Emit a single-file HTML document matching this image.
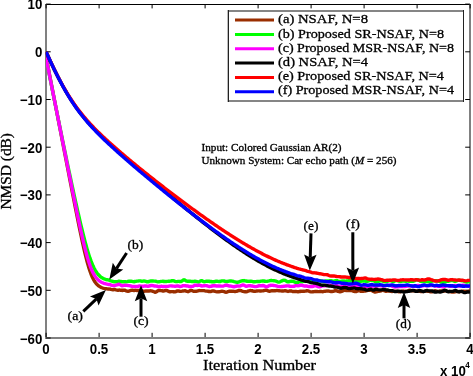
<!DOCTYPE html>
<html><head><meta charset="utf-8"><style>
html,body{margin:0;padding:0;background:#fff;width:473px;height:376px;overflow:hidden}
svg{display:block;will-change:transform}
text{fill:#000}
.r text{}
</style></head><body>
<svg width="473" height="376" viewBox="0 0 473 376">
<rect width="473" height="376" fill="#fff"/>
<defs><clipPath id="c"><rect x="45.8" y="4" width="424.2" height="334"/></clipPath></defs>
<path d="M45 4.5H470" stroke="#000" stroke-width="1" fill="none"/>
<path d="M46 4V339M470 4V339M45 338H471" stroke="#808080" stroke-width="2" fill="none"/>
<path d="M46.1 337V332.8M46.1 4V8.4M99.1 337V332.8M99.1 4V8.4M152.1 337V332.8M152.1 4V8.4M205.1 337V332.8M205.1 4V8.4M258.1 337V332.8M258.1 4V8.4M311.1 337V332.8M311.1 4V8.4M364.1 337V332.8M364.1 4V8.4M417.1 337V332.8M417.1 4V8.4M470.1 337V332.8M470.1 4V8.4M46 4.10H50.7M470 4.10H465.2M46 51.80H50.7M470 51.80H465.2M46 99.50H50.7M470 99.50H465.2M46 147.20H50.7M470 147.20H465.2M46 194.90H50.7M470 194.90H465.2M46 242.60H50.7M470 242.60H465.2M46 290.30H50.7M470 290.30H465.2M46 338.00H50.7M470 338.00H465.2" stroke="#000" stroke-width="1" fill="none"/>
<g clip-path="url(#c)" fill="none" stroke-width="3.4" stroke-linejoin="round" stroke-linecap="butt">
<polyline points="46.0,52.00 47.0,61.58 48.0,66.74 49.0,71.91 50.0,77.08 51.0,82.25 52.0,87.42 53.0,92.59 54.0,97.76 55.0,102.93 56.0,108.10 57.0,113.27 58.0,118.44 59.0,123.60 60.0,128.77 61.0,133.94 62.0,139.10 63.0,144.27 64.0,149.43 65.0,154.59 66.0,159.75 67.0,164.90 68.0,170.05 69.0,175.20 70.0,180.34 71.0,185.47 72.0,190.59 73.0,195.70 74.0,200.79 75.0,205.86 76.0,210.90 77.0,215.92 78.0,220.89 79.0,225.81 80.0,230.67 81.0,235.45 82.0,240.13 83.0,244.70 84.0,249.13 85.0,253.39 86.0,257.46 87.0,261.31 88.0,264.91 89.0,268.24 90.0,271.27 91.0,274.01 92.0,276.43 93.0,278.56 94.0,280.40 95.0,281.97 96.0,283.31 97.0,284.43 98.0,285.36 99.0,286.14 100.0,286.78 101.0,287.32 102.0,287.76 103.0,288.10 104.0,288.37 105.0,288.60 106.0,288.73 107.0,288.90 108.0,288.97 109.0,289.10 110.0,289.06 111.0,289.37 112.0,289.59 113.0,289.73 114.0,289.54 115.0,289.57 116.0,289.85 117.0,290.09 118.0,290.27 119.0,290.05 120.0,290.18 121.0,290.18 122.0,290.48 123.0,290.27 124.0,290.24 125.0,290.25 126.0,290.76 127.0,291.07 128.0,291.25 129.0,291.06 130.0,290.74 131.0,290.35 132.0,290.28 133.0,290.32 134.0,290.48 135.0,290.30 136.0,290.34 137.0,290.47 138.0,290.67 139.0,290.52 140.0,290.21 141.0,290.22 142.0,290.65 143.0,291.16 144.0,291.29 145.0,291.13 146.0,290.90 147.0,290.94 148.0,290.91 149.0,290.96 150.0,290.81 151.0,290.89 152.0,290.95 153.0,291.36 154.0,291.73 155.0,292.22 156.0,292.00 157.0,291.50 158.0,290.67 159.0,290.54 160.0,290.40 161.0,290.64 162.0,290.69 163.0,291.02 164.0,290.96 165.0,290.66 166.0,290.40 167.0,290.51 168.0,291.09 169.0,291.51 170.0,291.79 171.0,291.59 172.0,291.62 173.0,291.62 174.0,291.94 175.0,291.78 176.0,291.53 177.0,290.94 178.0,290.89 179.0,291.02 180.0,291.41 181.0,291.35 182.0,291.19 183.0,290.94 184.0,290.84 185.0,290.75 186.0,291.02 187.0,291.41 188.0,291.69 189.0,291.29 190.0,290.72 191.0,290.36 192.0,290.56 193.0,291.01 194.0,291.32 195.0,291.37 196.0,291.29 197.0,291.04 198.0,290.81 199.0,290.57 200.0,290.58 201.0,290.65 202.0,290.63 203.0,290.59 204.0,290.67 205.0,290.89 206.0,291.08 207.0,291.14 208.0,291.26 209.0,291.54 210.0,291.54 211.0,291.46 212.0,290.98 213.0,291.00 214.0,291.00 215.0,291.38 216.0,291.63 217.0,291.81 218.0,291.88 219.0,291.73 220.0,291.62 221.0,291.38 222.0,291.25 223.0,291.37 224.0,291.59 225.0,292.12 226.0,292.19 227.0,292.11 228.0,291.55 229.0,291.28 230.0,291.14 231.0,291.22 232.0,291.14 233.0,291.31 234.0,291.35 235.0,291.57 236.0,291.35 237.0,291.20 238.0,290.77 239.0,290.51 240.0,290.39 241.0,290.62 242.0,291.04 243.0,291.40 244.0,291.64 245.0,291.76 246.0,291.79 247.0,291.56 248.0,291.14 249.0,290.82 250.0,290.54 251.0,290.68 252.0,290.68 253.0,291.11 254.0,291.25 255.0,291.39 256.0,291.16 257.0,290.95 258.0,290.89 259.0,290.87 260.0,290.95 261.0,290.96 262.0,290.91 263.0,290.82 264.0,290.53 265.0,290.40 266.0,290.17 267.0,290.46 268.0,290.83 269.0,291.22 270.0,291.19 271.0,290.88 272.0,290.73 273.0,290.72 274.0,290.82 275.0,290.75 276.0,290.57 277.0,290.45 278.0,290.59 279.0,290.71 280.0,290.87 281.0,290.92 282.0,291.07 283.0,291.01 284.0,290.81 285.0,290.66 286.0,290.87 287.0,291.20 288.0,291.43 289.0,291.16 290.0,290.83 291.0,290.88 292.0,291.25 293.0,291.66 294.0,291.56 295.0,291.41 296.0,291.47 297.0,291.59 298.0,291.78 299.0,291.54 300.0,291.52 301.0,291.23 302.0,291.32 303.0,291.21 304.0,291.42 305.0,291.20 306.0,290.99 307.0,290.71 308.0,290.89 309.0,291.29 310.0,291.69 311.0,291.88 312.0,291.84 313.0,291.70 314.0,291.58 315.0,291.52 316.0,291.48 317.0,291.53 318.0,291.62 319.0,291.62 320.0,291.48 321.0,291.49 322.0,291.61 323.0,291.71 324.0,291.44 325.0,291.30 326.0,291.06 327.0,291.08 328.0,290.96 329.0,291.11 330.0,291.32 331.0,291.47 332.0,291.54 333.0,291.37 334.0,291.06 335.0,290.73 336.0,290.68 337.0,290.90 338.0,291.37 339.0,291.49 340.0,291.72 341.0,291.54 342.0,291.34 343.0,290.78 344.0,290.42 345.0,290.39 346.0,290.44 347.0,290.49 348.0,290.48 349.0,290.51 350.0,290.42 351.0,290.43 352.0,290.60 353.0,291.03 354.0,291.39 355.0,291.66 356.0,291.58 357.0,291.14 358.0,290.64 359.0,290.55 360.0,290.91 361.0,291.32 362.0,291.40 363.0,291.33 364.0,291.10 365.0,291.01 366.0,290.76 367.0,290.51 368.0,290.22 369.0,290.11 370.0,290.18 371.0,290.37 372.0,290.65 373.0,291.25 374.0,291.77 375.0,292.13 376.0,291.89 377.0,291.56 378.0,291.29 379.0,291.26 380.0,291.17 381.0,290.85 382.0,290.47 383.0,290.22 384.0,290.66 385.0,290.98 386.0,291.24 387.0,291.04 388.0,290.95 389.0,291.05 390.0,291.14 391.0,291.39 392.0,291.47 393.0,291.42 394.0,291.33 395.0,291.20 396.0,291.25 397.0,291.20 398.0,291.54 399.0,291.73 400.0,291.80 401.0,291.40 402.0,291.08 403.0,291.04 404.0,291.09 405.0,291.31 406.0,291.31 407.0,291.35 408.0,290.86 409.0,290.44 410.0,290.21 411.0,290.54 412.0,290.91 413.0,290.84 414.0,290.71 415.0,290.64 416.0,290.86 417.0,290.96 418.0,290.98 419.0,291.19 420.0,291.26 421.0,291.47 422.0,291.46 423.0,291.62 424.0,291.42 425.0,291.18 426.0,290.98 427.0,291.04 428.0,291.29 429.0,291.42 430.0,291.69 431.0,291.80 432.0,291.87 433.0,291.45 434.0,291.01 435.0,290.72 436.0,290.96 437.0,291.28 438.0,291.38 439.0,291.23 440.0,290.90 441.0,290.88 442.0,290.97 443.0,291.25 444.0,291.08 445.0,290.82 446.0,290.72 447.0,291.06 448.0,291.37 449.0,291.49 450.0,291.53 451.0,291.80 452.0,292.00 453.0,292.08 454.0,291.95 455.0,291.87 456.0,291.63 457.0,291.53 458.0,291.38 459.0,291.70 460.0,291.58 461.0,291.55 462.0,291.14 463.0,291.25 464.0,291.29 465.0,291.41 466.0,291.46 467.0,291.43 468.0,291.33 469.0,291.08 470.0,290.99" stroke="#9a2e00"/>
<polyline points="46.0,52.00 47.0,60.82 48.0,67.42 49.0,72.97 50.0,78.15 51.0,83.20 52.0,88.19 53.0,93.17 54.0,98.13 55.0,103.08 56.0,108.01 57.0,112.94 58.0,117.86 59.0,122.76 60.0,127.65 61.0,132.53 62.0,137.40 63.0,142.25 64.0,147.08 65.0,151.90 66.0,156.70 67.0,161.48 68.0,166.25 69.0,170.99 70.0,175.71 71.0,180.40 72.0,185.07 73.0,189.71 74.0,194.31 75.0,198.89 76.0,203.42 77.0,207.91 78.0,212.34 79.0,216.73 80.0,221.05 81.0,225.29 82.0,229.46 83.0,233.53 84.0,237.49 85.0,241.33 86.0,245.04 87.0,248.59 88.0,251.97 89.0,255.17 90.0,258.17 91.0,260.95 92.0,263.51 93.0,265.85 94.0,267.96 95.0,269.85 96.0,271.52 97.0,272.98 98.0,274.25 99.0,275.35 100.0,276.30 101.0,277.10 102.0,277.78 103.0,278.35 104.0,278.83 105.0,279.24 106.0,279.54 107.0,279.75 108.0,279.94 109.0,280.20 110.0,280.50 111.0,280.88 112.0,281.22 113.0,281.56 114.0,281.69 115.0,281.75 116.0,281.77 117.0,281.63 118.0,281.43 119.0,281.15 120.0,281.34 121.0,281.50 122.0,281.77 123.0,281.63 124.0,281.72 125.0,281.73 126.0,281.80 127.0,281.58 128.0,281.33 129.0,281.18 130.0,281.14 131.0,281.22 132.0,281.44 133.0,281.65 134.0,281.76 135.0,281.49 136.0,281.36 137.0,281.14 138.0,281.08 139.0,280.83 140.0,280.89 141.0,281.05 142.0,281.25 143.0,281.12 144.0,280.99 145.0,281.10 146.0,281.47 147.0,281.75 148.0,281.74 149.0,281.48 150.0,281.20 151.0,280.96 152.0,280.96 153.0,281.04 154.0,281.10 155.0,281.11 156.0,281.27 157.0,281.62 158.0,281.82 159.0,281.70 160.0,281.59 161.0,281.36 162.0,281.41 163.0,281.24 164.0,281.52 165.0,281.52 166.0,281.64 167.0,281.36 168.0,281.31 169.0,281.20 170.0,281.21 171.0,281.00 172.0,280.76 173.0,280.70 174.0,280.89 175.0,281.33 176.0,281.59 177.0,281.60 178.0,281.42 179.0,281.32 180.0,281.57 181.0,281.60 182.0,281.07 183.0,280.15 184.0,279.77 185.0,280.18 186.0,280.88 187.0,281.20 188.0,281.20 189.0,281.16 190.0,281.18 191.0,281.37 192.0,281.54 193.0,281.56 194.0,281.44 195.0,281.23 196.0,281.34 197.0,281.65 198.0,282.02 199.0,281.84 200.0,281.17 201.0,280.63 202.0,280.76 203.0,281.35 204.0,281.71 205.0,281.56 206.0,281.27 207.0,281.08 208.0,281.25 209.0,281.26 210.0,281.49 211.0,281.48 212.0,281.73 213.0,281.80 214.0,281.74 215.0,281.52 216.0,281.23 217.0,281.23 218.0,281.37 219.0,281.56 220.0,281.53 221.0,281.20 222.0,280.90 223.0,280.85 224.0,280.98 225.0,281.26 226.0,281.36 227.0,281.52 228.0,281.28 229.0,281.08 230.0,280.92 231.0,280.97 232.0,281.11 233.0,281.26 234.0,281.66 235.0,281.89 236.0,282.11 237.0,282.21 238.0,282.23 239.0,281.94 240.0,281.42 241.0,281.11 242.0,280.81 243.0,280.74 244.0,280.55 245.0,280.85 246.0,280.96 247.0,281.28 248.0,281.29 249.0,281.33 250.0,281.19 251.0,281.26 252.0,281.44 253.0,281.74 254.0,281.76 255.0,281.71 256.0,281.59 257.0,281.47 258.0,281.53 259.0,281.38 260.0,281.46 261.0,281.16 262.0,281.03 263.0,280.83 264.0,281.00 265.0,281.29 266.0,281.37 267.0,281.33 268.0,281.06 269.0,280.88 270.0,280.61 271.0,280.53 272.0,280.57 273.0,280.68 274.0,280.80 275.0,280.93 276.0,281.22 277.0,281.55 278.0,281.99 279.0,282.08 280.0,281.90 281.0,281.31 282.0,280.86 283.0,280.40 284.0,280.30 285.0,280.34 286.0,280.91 287.0,281.54 288.0,281.91 289.0,281.79 290.0,281.34 291.0,281.22 292.0,281.15 293.0,281.42 294.0,281.70 295.0,282.14 296.0,282.57 297.0,282.58 298.0,282.36 299.0,281.90 300.0,281.83 301.0,281.86 302.0,281.87 303.0,281.40 304.0,281.00 305.0,280.80 306.0,281.05 307.0,281.23 308.0,281.10 309.0,280.88 310.0,280.83 311.0,281.21 312.0,281.54 313.0,281.52 314.0,281.42 315.0,281.30 316.0,281.49 317.0,281.47 318.0,281.27 319.0,280.97 320.0,280.68 321.0,280.85 322.0,281.16 323.0,281.61 324.0,281.60 325.0,281.27 326.0,280.85 327.0,280.85 328.0,280.93 329.0,280.85 330.0,280.61 331.0,280.62 332.0,280.99 333.0,281.09 334.0,281.17 335.0,280.80 336.0,280.79 337.0,280.67 338.0,281.11 339.0,281.48 340.0,281.48 341.0,281.37 342.0,281.04 343.0,281.18 344.0,281.05 345.0,281.10 346.0,281.06 347.0,280.99 348.0,280.94 349.0,280.73 350.0,280.77 351.0,280.90 352.0,281.21 353.0,281.43 354.0,281.44 355.0,281.20 356.0,280.95 357.0,280.94 358.0,281.09 359.0,281.34 360.0,281.35 361.0,281.28 362.0,281.17 363.0,281.06 364.0,281.09 365.0,281.15 366.0,281.29 367.0,281.34 368.0,281.02 369.0,280.77 370.0,280.37 371.0,280.41 372.0,280.39 373.0,280.67 374.0,281.02 375.0,281.46 376.0,281.79 377.0,281.76 378.0,281.60 379.0,281.23 380.0,280.86 381.0,280.56 382.0,280.67 383.0,281.17 384.0,281.58 385.0,281.75 386.0,281.60 387.0,281.51 388.0,281.12 389.0,280.77 390.0,280.47 391.0,280.78 392.0,281.21 393.0,281.53 394.0,281.27 395.0,280.93 396.0,280.60 397.0,280.60 398.0,280.70 399.0,281.07 400.0,281.41 401.0,281.46 402.0,281.11 403.0,280.77 404.0,280.88 405.0,281.20 406.0,281.35 407.0,281.15 408.0,281.14 409.0,281.24 410.0,281.40 411.0,281.31 412.0,281.22 413.0,281.23 414.0,281.06 415.0,280.59 416.0,279.99 417.0,279.62 418.0,279.90 419.0,280.39 420.0,281.06 421.0,281.34 422.0,281.40 423.0,281.36 424.0,281.35 425.0,281.49 426.0,281.50 427.0,281.64 428.0,281.74 429.0,281.75 430.0,281.73 431.0,281.42 432.0,281.24 433.0,280.80 434.0,280.73 435.0,280.65 436.0,280.88 437.0,280.82 438.0,280.97 439.0,281.19 440.0,281.71 441.0,282.08 442.0,282.15 443.0,282.27 444.0,282.18 445.0,282.01 446.0,281.57 447.0,281.27 448.0,281.23 449.0,281.05 450.0,280.74 451.0,280.46 452.0,280.36 453.0,280.71 454.0,281.07 455.0,281.40 456.0,281.13 457.0,280.64 458.0,280.20 459.0,280.19 460.0,280.35 461.0,280.66 462.0,280.78 463.0,280.91 464.0,281.14 465.0,281.62 466.0,281.99 467.0,282.10 468.0,281.77 469.0,281.49 470.0,281.17" stroke="#00ff00"/>
<polyline points="46.0,52.00 47.0,62.61 48.0,67.65 49.0,72.69 50.0,77.72 51.0,82.76 52.0,87.80 53.0,92.83 54.0,97.87 55.0,102.90 56.0,107.94 57.0,112.97 58.0,118.01 59.0,123.04 60.0,128.07 61.0,133.10 62.0,138.12 63.0,143.15 64.0,148.17 65.0,153.19 66.0,158.20 67.0,163.21 68.0,168.21 69.0,173.21 70.0,178.19 71.0,183.17 72.0,188.13 73.0,193.07 74.0,198.00 75.0,202.89 76.0,207.76 77.0,212.58 78.0,217.36 79.0,222.09 80.0,226.74 81.0,231.31 82.0,235.79 83.0,240.14 84.0,244.36 85.0,248.41 86.0,252.28 87.0,255.95 88.0,259.39 89.0,262.57 90.0,265.50 91.0,268.16 92.0,270.54 93.0,272.66 94.0,274.51 95.0,276.13 96.0,277.52 97.0,278.72 98.0,279.74 99.0,280.60 100.0,281.33 101.0,281.95 102.0,282.47 103.0,282.92 104.0,283.29 105.0,283.62 106.0,283.95 107.0,284.13 108.0,284.31 109.0,284.48 110.0,284.72 111.0,284.98 112.0,285.33 113.0,285.62 114.0,285.62 115.0,285.46 116.0,285.18 117.0,284.89 118.0,284.50 119.0,284.26 120.0,284.64 121.0,285.20 122.0,285.74 123.0,285.60 124.0,285.41 125.0,285.22 126.0,285.34 127.0,285.38 128.0,285.49 129.0,285.60 130.0,285.79 131.0,286.01 132.0,286.32 133.0,286.43 134.0,286.56 135.0,286.37 136.0,286.64 137.0,286.46 138.0,286.45 139.0,286.05 140.0,286.06 141.0,286.11 142.0,286.29 143.0,286.28 144.0,286.12 145.0,285.93 146.0,286.02 147.0,286.18 148.0,286.23 149.0,286.02 150.0,285.77 151.0,285.51 152.0,285.51 153.0,285.65 154.0,286.03 155.0,286.01 156.0,286.09 157.0,286.20 158.0,286.58 159.0,286.73 160.0,286.45 161.0,286.32 162.0,286.31 163.0,286.55 164.0,286.53 165.0,286.41 166.0,286.43 167.0,286.41 168.0,286.34 169.0,286.06 170.0,285.89 171.0,285.88 172.0,285.93 173.0,286.09 174.0,286.17 175.0,286.34 176.0,286.09 177.0,285.94 178.0,285.91 179.0,286.25 180.0,286.52 181.0,286.38 182.0,286.09 183.0,285.65 184.0,285.60 185.0,285.70 186.0,285.78 187.0,286.02 188.0,286.04 189.0,286.46 190.0,286.33 191.0,286.51 192.0,286.44 193.0,286.23 194.0,285.65 195.0,285.13 196.0,285.19 197.0,285.44 198.0,285.33 199.0,285.23 200.0,285.29 201.0,285.80 202.0,285.97 203.0,285.92 204.0,285.70 205.0,285.60 206.0,285.60 207.0,285.78 208.0,286.14 209.0,286.43 210.0,286.46 211.0,286.25 212.0,286.00 213.0,285.76 214.0,285.69 215.0,285.71 216.0,285.95 217.0,286.06 218.0,286.07 219.0,286.00 220.0,285.96 221.0,286.09 222.0,286.15 223.0,286.11 224.0,285.75 225.0,285.35 226.0,285.06 227.0,285.28 228.0,285.63 229.0,286.03 230.0,286.04 231.0,286.10 232.0,286.30 233.0,286.60 234.0,286.71 235.0,286.51 236.0,286.22 237.0,286.05 238.0,286.03 239.0,286.10 240.0,285.99 241.0,285.71 242.0,285.18 243.0,284.90 244.0,285.06 245.0,285.72 246.0,286.25 247.0,286.20 248.0,285.81 249.0,285.63 250.0,285.76 251.0,285.95 252.0,285.96 253.0,286.23 254.0,286.40 255.0,286.67 256.0,286.57 257.0,286.41 258.0,286.07 259.0,285.73 260.0,285.69 261.0,285.69 262.0,285.71 263.0,285.53 264.0,285.65 265.0,286.15 266.0,286.70 267.0,286.77 268.0,286.33 269.0,285.69 270.0,285.46 271.0,285.30 272.0,285.35 273.0,285.29 274.0,285.50 275.0,285.66 276.0,285.88 277.0,286.09 278.0,286.37 279.0,286.55 280.0,286.66 281.0,286.61 282.0,286.44 283.0,286.32 284.0,286.18 285.0,286.14 286.0,285.97 287.0,285.86 288.0,285.89 289.0,286.01 290.0,286.24 291.0,286.33 292.0,286.36 293.0,286.38 294.0,286.27 295.0,285.95 296.0,285.62 297.0,285.65 298.0,285.83 299.0,285.67 300.0,285.29 301.0,285.10 302.0,285.35 303.0,285.65 304.0,285.99 305.0,285.98 306.0,286.01 307.0,286.05 308.0,286.29 309.0,286.54 310.0,286.55 311.0,286.67 312.0,286.58 313.0,286.37 314.0,285.87 315.0,285.58 316.0,285.73 317.0,286.24 318.0,286.68 319.0,286.90 320.0,286.75 321.0,286.36 322.0,285.91 323.0,285.71 324.0,285.87 325.0,285.92 326.0,285.77 327.0,285.34 328.0,285.25 329.0,285.21 330.0,285.45 331.0,285.55 332.0,285.81 333.0,286.10 334.0,286.23 335.0,286.01 336.0,285.60 337.0,285.57 338.0,286.14 339.0,286.69 340.0,286.90 341.0,286.62 342.0,286.24 343.0,285.84 344.0,285.61 345.0,285.61 346.0,285.97 347.0,286.08 348.0,286.14 349.0,285.87 350.0,285.90 351.0,285.84 352.0,285.62 353.0,285.29 354.0,285.30 355.0,285.73 356.0,286.29 357.0,286.39 358.0,286.36 359.0,286.16 360.0,286.12 361.0,285.91 362.0,285.75 363.0,285.84 364.0,286.10 365.0,286.37 366.0,286.53 367.0,286.57 368.0,286.41 369.0,286.05 370.0,285.90 371.0,286.04 372.0,286.20 373.0,286.17 374.0,286.08 375.0,286.00 376.0,286.12 377.0,286.00 378.0,285.90 379.0,285.61 380.0,285.57 381.0,285.72 382.0,285.93 383.0,286.06 384.0,285.98 385.0,285.88 386.0,285.68 387.0,285.40 388.0,285.13 389.0,285.08 390.0,285.29 391.0,285.69 392.0,286.09 393.0,286.53 394.0,286.84 395.0,286.97 396.0,286.92 397.0,286.82 398.0,286.77 399.0,286.60 400.0,286.44 401.0,286.36 402.0,286.50 403.0,286.57 404.0,286.61 405.0,286.46 406.0,286.37 407.0,286.13 408.0,286.12 409.0,285.90 410.0,285.87 411.0,285.79 412.0,286.14 413.0,286.39 414.0,286.51 415.0,286.26 416.0,285.96 417.0,285.65 418.0,285.55 419.0,285.71 420.0,285.91 421.0,286.15 422.0,285.96 423.0,285.83 424.0,285.48 425.0,285.66 426.0,285.85 427.0,285.93 428.0,285.66 429.0,285.43 430.0,285.52 431.0,285.54 432.0,285.44 433.0,285.34 434.0,285.56 435.0,285.77 436.0,286.08 437.0,286.15 438.0,286.41 439.0,286.29 440.0,286.26 441.0,286.38 442.0,286.71 443.0,286.97 444.0,286.70 445.0,286.22 446.0,285.79 447.0,285.73 448.0,285.83 449.0,286.12 450.0,286.22 451.0,286.39 452.0,286.30 453.0,286.09 454.0,285.76 455.0,285.45 456.0,285.54 457.0,285.79 458.0,286.07 459.0,286.08 460.0,285.98 461.0,285.73 462.0,285.41 463.0,285.25 464.0,285.31 465.0,285.61 466.0,285.78 467.0,286.11 468.0,286.34 469.0,286.41 470.0,286.18" stroke="#ff00ff"/>
<polyline points="46.0,52.00 47.0,53.87 48.0,56.07 49.0,58.26 50.0,60.43 51.0,62.58 52.0,64.71 53.0,66.81 54.0,68.89 55.0,70.95 56.0,72.97 57.0,74.98 58.0,76.95 59.0,78.90 60.0,80.81 61.0,82.70 62.0,84.56 63.0,86.38 64.0,88.18 65.0,89.94 66.0,91.67 67.0,93.37 68.0,95.04 69.0,96.67 70.0,98.28 71.0,99.85 72.0,101.39 73.0,102.90 74.0,104.37 75.0,105.82 76.0,107.24 77.0,108.63 78.0,109.99 79.0,111.33 80.0,112.64 81.0,113.92 82.0,115.18 83.0,116.42 84.0,117.63 85.0,118.82 86.0,120.00 87.0,121.15 88.0,122.28 89.0,123.40 90.0,124.50 91.0,125.58 92.0,126.65 93.0,127.71 94.0,128.75 95.0,129.78 96.0,130.80 97.0,131.80 98.0,132.80 99.0,133.79 100.0,134.76 101.0,135.73 102.0,136.69 103.0,137.65 104.0,138.59 105.0,139.53 106.0,140.47 107.0,141.40 108.0,142.32 109.0,143.24 110.0,144.15 111.0,145.06 112.0,145.96 113.0,146.87 114.0,147.76 115.0,148.66 116.0,149.55 117.0,150.44 118.0,151.32 119.0,152.21 120.0,153.09 121.0,153.97 122.0,154.84 123.0,155.72 124.0,156.59 125.0,157.46 126.0,158.33 127.0,159.20 128.0,160.06 129.0,160.93 130.0,161.79 131.0,162.66 132.0,163.52 133.0,164.38 134.0,165.24 135.0,166.09 136.0,166.95 137.0,167.81 138.0,168.66 139.0,169.52 140.0,170.37 141.0,171.22 142.0,172.07 143.0,172.92 144.0,173.77 145.0,174.62 146.0,175.47 147.0,176.32 148.0,177.17 149.0,178.01 150.0,178.86 151.0,179.70 152.0,180.55 153.0,181.39 154.0,182.23 155.0,183.07 156.0,183.91 157.0,184.75 158.0,185.59 159.0,186.43 160.0,187.27 161.0,188.11 162.0,188.94 163.0,189.78 164.0,190.62 165.0,191.45 166.0,192.28 167.0,193.12 168.0,193.95 169.0,194.78 170.0,195.61 171.0,196.44 172.0,197.26 173.0,198.09 174.0,198.92 175.0,199.74 176.0,200.57 177.0,201.39 178.0,202.21 179.0,203.03 180.0,203.85 181.0,204.67 182.0,205.49 183.0,206.31 184.0,207.12 185.0,207.93 186.0,208.75 187.0,209.56 188.0,210.37 189.0,211.18 190.0,211.99 191.0,212.79 192.0,213.60 193.0,214.40 194.0,215.20 195.0,216.00 196.0,216.80 197.0,217.60 198.0,218.39 199.0,219.19 200.0,219.98 201.0,220.77 202.0,221.56 203.0,222.34 204.0,223.13 205.0,223.91 206.0,224.69 207.0,225.47 208.0,226.24 209.0,227.02 210.0,227.79 211.0,228.56 212.0,229.33 213.0,230.09 214.0,230.85 215.0,231.61 216.0,232.37 217.0,233.13 218.0,233.88 219.0,234.63 220.0,235.37 221.0,236.12 222.0,236.86 223.0,237.60 224.0,238.33 225.0,239.06 226.0,239.79 227.0,240.52 228.0,241.24 229.0,241.96 230.0,242.67 231.0,243.38 232.0,244.09 233.0,244.79 234.0,245.49 235.0,246.19 236.0,246.88 237.0,247.57 238.0,248.25 239.0,248.93 240.0,249.60 241.0,250.27 242.0,250.94 243.0,251.60 244.0,252.26 245.0,252.91 246.0,253.56 247.0,254.20 248.0,254.84 249.0,255.47 250.0,256.10 251.0,256.72 252.0,257.33 253.0,257.94 254.0,258.55 255.0,259.15 256.0,259.74 257.0,260.33 258.0,260.91 259.0,261.49 260.0,262.06 261.0,262.62 262.0,263.18 263.0,263.73 264.0,264.28 265.0,264.82 266.0,265.35 267.0,265.88 268.0,266.40 269.0,266.91 270.0,267.42 271.0,267.92 272.0,268.41 273.0,268.90 274.0,269.38 275.0,269.85 276.0,270.32 277.0,270.78 278.0,271.23 279.0,271.68 280.0,272.12 281.0,272.55 282.0,272.98 283.0,273.39 284.0,273.81 285.0,274.21 286.0,274.61 287.0,275.00 288.0,275.38 289.0,275.76 290.0,276.13 291.0,276.49 292.0,276.85 293.0,277.20 294.0,277.56 295.0,277.91 296.0,278.24 297.0,278.54 298.0,278.85 299.0,279.15 300.0,279.46 301.0,279.77 302.0,280.10 303.0,280.43 304.0,280.75 305.0,281.03 306.0,281.27 307.0,281.45 308.0,281.63 309.0,281.90 310.0,282.29 311.0,282.62 312.0,282.80 313.0,282.86 314.0,282.95 315.0,283.08 316.0,283.35 317.0,283.58 318.0,283.91 319.0,284.19 320.0,284.63 321.0,284.96 322.0,285.21 323.0,285.19 324.0,285.17 325.0,285.14 326.0,285.37 327.0,285.63 328.0,285.93 329.0,286.03 330.0,286.08 331.0,286.07 332.0,286.21 333.0,286.46 334.0,286.79 335.0,287.00 336.0,287.09 337.0,287.18 338.0,287.35 339.0,287.72 340.0,288.05 341.0,288.20 342.0,288.04 343.0,287.72 344.0,287.49 345.0,287.39 346.0,287.56 347.0,287.94 348.0,288.35 349.0,288.61 350.0,288.50 351.0,288.39 352.0,288.15 353.0,288.08 354.0,288.02 355.0,288.17 356.0,288.46 357.0,288.66 358.0,288.70 359.0,288.65 360.0,288.65 361.0,288.82 362.0,288.89 363.0,289.03 364.0,289.09 365.0,289.44 366.0,289.80 367.0,290.10 368.0,290.04 369.0,289.65 370.0,289.28 371.0,289.24 372.0,289.75 373.0,290.06 374.0,290.00 375.0,289.46 376.0,289.26 377.0,289.34 378.0,289.63 379.0,289.83 380.0,289.93 381.0,289.85 382.0,289.68 383.0,289.44 384.0,289.58 385.0,289.70 386.0,289.96 387.0,289.98 388.0,290.21 389.0,290.46 390.0,290.60 391.0,290.64 392.0,290.59 393.0,290.93 394.0,291.26 395.0,291.64 396.0,291.53 397.0,291.34 398.0,291.11 399.0,291.15 400.0,291.36 401.0,291.48 402.0,291.69 403.0,291.87 404.0,291.98 405.0,291.92 406.0,291.59 407.0,291.52 408.0,291.30 409.0,291.28 410.0,290.99 411.0,290.82 412.0,290.49 413.0,290.44 414.0,290.60 415.0,291.05 416.0,291.38 417.0,291.40 418.0,291.04 419.0,290.67 420.0,290.51 421.0,290.81 422.0,291.19 423.0,291.48 424.0,291.50 425.0,291.07 426.0,290.73 427.0,290.47 428.0,290.72 429.0,290.88 430.0,290.93 431.0,290.84 432.0,290.93 433.0,291.28 434.0,291.76 435.0,291.97 436.0,292.00 437.0,291.80 438.0,291.88 439.0,291.90 440.0,292.04 441.0,291.78 442.0,291.57 443.0,290.99 444.0,290.49 445.0,290.21 446.0,290.62 447.0,291.34 448.0,291.72 449.0,291.63 450.0,291.34 451.0,291.39 452.0,291.35 453.0,291.40 454.0,290.82 455.0,290.66 456.0,290.54 457.0,291.31 458.0,291.57 459.0,291.79 460.0,291.42 461.0,291.42 462.0,291.56 463.0,292.07 464.0,292.58 465.0,292.67 466.0,292.41 467.0,292.03 468.0,291.99 469.0,292.00 470.0,291.87" stroke="#000000"/>
<polyline points="46.0,52.00 47.0,53.85 48.0,56.05 49.0,58.22 50.0,60.38 51.0,62.51 52.0,64.61 53.0,66.70 54.0,68.75 55.0,70.79 56.0,72.79 57.0,74.77 58.0,76.72 59.0,78.63 60.0,80.52 61.0,82.38 62.0,84.21 63.0,86.01 64.0,87.78 65.0,89.51 66.0,91.21 67.0,92.88 68.0,94.52 69.0,96.13 70.0,97.71 71.0,99.25 72.0,100.76 73.0,102.25 74.0,103.70 75.0,105.13 76.0,106.53 77.0,107.90 78.0,109.24 79.0,110.56 80.0,111.85 81.0,113.12 82.0,114.37 83.0,115.59 84.0,116.79 85.0,117.97 86.0,119.14 87.0,120.28 88.0,121.40 89.0,122.51 90.0,123.61 91.0,124.68 92.0,125.74 93.0,126.79 94.0,127.83 95.0,128.85 96.0,129.86 97.0,130.86 98.0,131.85 99.0,132.83 100.0,133.80 101.0,134.77 102.0,135.72 103.0,136.66 104.0,137.60 105.0,138.53 106.0,139.46 107.0,140.37 108.0,141.29 109.0,142.19 110.0,143.09 111.0,143.99 112.0,144.88 113.0,145.77 114.0,146.65 115.0,147.53 116.0,148.40 117.0,149.27 118.0,150.14 119.0,151.00 120.0,151.86 121.0,152.71 122.0,153.57 123.0,154.42 124.0,155.26 125.0,156.11 126.0,156.95 127.0,157.79 128.0,158.63 129.0,159.46 130.0,160.29 131.0,161.12 132.0,161.95 133.0,162.78 134.0,163.60 135.0,164.42 136.0,165.24 137.0,166.06 138.0,166.87 139.0,167.69 140.0,168.50 141.0,169.31 142.0,170.12 143.0,170.92 144.0,171.73 145.0,172.53 146.0,173.33 147.0,174.13 148.0,174.93 149.0,175.73 150.0,176.52 151.0,177.31 152.0,178.11 153.0,178.90 154.0,179.68 155.0,180.47 156.0,181.26 157.0,182.04 158.0,182.82 159.0,183.60 160.0,184.38 161.0,185.16 162.0,185.93 163.0,186.71 164.0,187.48 165.0,188.25 166.0,189.02 167.0,189.79 168.0,190.56 169.0,191.33 170.0,192.09 171.0,192.85 172.0,193.61 173.0,194.37 174.0,195.13 175.0,195.89 176.0,196.64 177.0,197.40 178.0,198.15 179.0,198.90 180.0,199.65 181.0,200.40 182.0,201.14 183.0,201.89 184.0,202.63 185.0,203.37 186.0,204.11 187.0,204.85 188.0,205.59 189.0,206.32 190.0,207.06 191.0,207.79 192.0,208.52 193.0,209.25 194.0,209.98 195.0,210.70 196.0,211.42 197.0,212.15 198.0,212.87 199.0,213.58 200.0,214.30 201.0,215.02 202.0,215.73 203.0,216.44 204.0,217.15 205.0,217.86 206.0,218.56 207.0,219.27 208.0,219.97 209.0,220.67 210.0,221.36 211.0,222.06 212.0,222.75 213.0,223.44 214.0,224.13 215.0,224.82 216.0,225.50 217.0,226.19 218.0,226.87 219.0,227.54 220.0,228.22 221.0,228.89 222.0,229.56 223.0,230.23 224.0,230.89 225.0,231.55 226.0,232.21 227.0,232.87 228.0,233.52 229.0,234.17 230.0,234.82 231.0,235.47 232.0,236.11 233.0,236.75 234.0,237.38 235.0,238.02 236.0,238.64 237.0,239.27 238.0,239.89 239.0,240.51 240.0,241.13 241.0,241.74 242.0,242.35 243.0,242.95 244.0,243.55 245.0,244.15 246.0,244.74 247.0,245.33 248.0,245.91 249.0,246.49 250.0,247.07 251.0,247.64 252.0,248.21 253.0,248.77 254.0,249.33 255.0,249.88 256.0,250.43 257.0,250.98 258.0,251.51 259.0,252.05 260.0,252.58 261.0,253.10 262.0,253.62 263.0,254.14 264.0,254.65 265.0,255.15 266.0,255.65 267.0,256.14 268.0,256.63 269.0,257.11 270.0,257.59 271.0,258.06 272.0,258.52 273.0,258.98 274.0,259.44 275.0,259.89 276.0,260.33 277.0,260.76 278.0,261.19 279.0,261.62 280.0,262.04 281.0,262.45 282.0,262.85 283.0,263.25 284.0,263.65 285.0,264.04 286.0,264.42 287.0,264.79 288.0,265.16 289.0,265.53 290.0,265.88 291.0,266.24 292.0,266.58 293.0,266.93 294.0,267.27 295.0,267.63 296.0,267.96 297.0,268.27 298.0,268.56 299.0,268.85 300.0,269.09 301.0,269.39 302.0,269.66 303.0,270.00 304.0,270.21 305.0,270.45 306.0,270.68 307.0,271.05 308.0,271.37 309.0,271.63 310.0,271.87 311.0,272.21 312.0,272.63 313.0,272.84 314.0,272.82 315.0,272.83 316.0,272.94 317.0,273.25 318.0,273.46 319.0,273.65 320.0,273.80 321.0,273.94 322.0,274.15 323.0,274.37 324.0,274.60 325.0,274.67 326.0,274.65 327.0,274.70 328.0,275.00 329.0,275.46 330.0,275.85 331.0,275.97 332.0,275.95 333.0,275.86 334.0,276.01 335.0,276.16 336.0,276.48 337.0,276.55 338.0,276.58 339.0,276.62 340.0,276.76 341.0,276.99 342.0,276.98 343.0,276.96 344.0,276.95 345.0,276.98 346.0,277.16 347.0,277.28 348.0,277.44 349.0,277.53 350.0,277.63 351.0,277.78 352.0,277.83 353.0,277.89 354.0,278.17 355.0,278.40 356.0,278.65 357.0,278.49 358.0,278.55 359.0,278.49 360.0,278.58 361.0,278.54 362.0,278.52 363.0,278.31 364.0,278.07 365.0,277.96 366.0,278.22 367.0,278.57 368.0,278.89 369.0,279.11 370.0,279.21 371.0,279.32 372.0,279.30 373.0,279.40 374.0,279.45 375.0,279.46 376.0,279.30 377.0,279.11 378.0,278.97 379.0,279.10 380.0,279.29 381.0,279.54 382.0,279.76 383.0,280.20 384.0,280.50 385.0,280.62 386.0,280.35 387.0,280.22 388.0,280.16 389.0,280.23 390.0,280.23 391.0,280.19 392.0,280.08 393.0,279.92 394.0,279.84 395.0,279.98 396.0,280.18 397.0,280.37 398.0,280.45 399.0,280.39 400.0,280.20 401.0,279.91 402.0,279.84 403.0,279.79 404.0,279.87 405.0,279.85 406.0,279.89 407.0,279.99 408.0,279.97 409.0,280.05 410.0,279.79 411.0,279.78 412.0,279.74 413.0,279.92 414.0,279.95 415.0,279.86 416.0,279.76 417.0,279.81 418.0,279.96 419.0,280.19 420.0,280.12 421.0,279.97 422.0,279.79 423.0,279.81 424.0,280.03 425.0,279.95 426.0,279.68 427.0,279.11 428.0,278.87 429.0,279.00 430.0,279.24 431.0,279.65 432.0,279.90 433.0,280.39 434.0,280.67 435.0,280.99 436.0,281.03 437.0,281.06 438.0,280.93 439.0,280.76 440.0,280.35 441.0,279.85 442.0,279.56 443.0,279.39 444.0,279.52 445.0,279.43 446.0,279.76 447.0,279.95 448.0,280.26 449.0,280.20 450.0,279.88 451.0,279.67 452.0,279.57 453.0,279.77 454.0,279.92 455.0,279.96 456.0,280.17 457.0,280.08 458.0,280.13 459.0,280.02 460.0,280.28 461.0,280.30 462.0,280.30 463.0,280.29 464.0,280.58 465.0,280.87 466.0,280.85 467.0,280.67 468.0,280.40 469.0,280.37 470.0,280.34" stroke="#ff0000"/>
<polyline points="46.0,52.00 47.0,53.87 48.0,56.09 49.0,58.29 50.0,60.46 51.0,62.62 52.0,64.75 53.0,66.86 54.0,68.94 55.0,71.00 56.0,73.03 57.0,75.04 58.0,77.02 59.0,78.97 60.0,80.89 61.0,82.79 62.0,84.65 63.0,86.48 64.0,88.28 65.0,90.06 66.0,91.79 67.0,93.50 68.0,95.18 69.0,96.83 70.0,98.44 71.0,100.02 72.0,101.58 73.0,103.10 74.0,104.59 75.0,106.05 76.0,107.49 77.0,108.90 78.0,110.28 79.0,111.63 80.0,112.96 81.0,114.27 82.0,115.55 83.0,116.80 84.0,118.04 85.0,119.25 86.0,120.45 87.0,121.62 88.0,122.78 89.0,123.92 90.0,125.05 91.0,126.15 92.0,127.25 93.0,128.32 94.0,129.39 95.0,130.44 96.0,131.48 97.0,132.51 98.0,133.53 99.0,134.54 100.0,135.54 101.0,136.53 102.0,137.51 103.0,138.48 104.0,139.45 105.0,140.40 106.0,141.36 107.0,142.30 108.0,143.24 109.0,144.18 110.0,145.10 111.0,146.03 112.0,146.95 113.0,147.86 114.0,148.77 115.0,149.68 116.0,150.58 117.0,151.48 118.0,152.37 119.0,153.27 120.0,154.15 121.0,155.04 122.0,155.92 123.0,156.80 124.0,157.68 125.0,158.56 126.0,159.43 127.0,160.30 128.0,161.17 129.0,162.03 130.0,162.90 131.0,163.76 132.0,164.62 133.0,165.48 134.0,166.33 135.0,167.19 136.0,168.04 137.0,168.89 138.0,169.74 139.0,170.59 140.0,171.44 141.0,172.28 142.0,173.12 143.0,173.96 144.0,174.80 145.0,175.64 146.0,176.48 147.0,177.32 148.0,178.15 149.0,178.98 150.0,179.82 151.0,180.65 152.0,181.47 153.0,182.30 154.0,183.13 155.0,183.95 156.0,184.78 157.0,185.60 158.0,186.42 159.0,187.24 160.0,188.06 161.0,188.87 162.0,189.69 163.0,190.50 164.0,191.32 165.0,192.13 166.0,192.94 167.0,193.75 168.0,194.56 169.0,195.36 170.0,196.17 171.0,196.97 172.0,197.77 173.0,198.57 174.0,199.37 175.0,200.17 176.0,200.97 177.0,201.77 178.0,202.56 179.0,203.35 180.0,204.14 181.0,204.93 182.0,205.72 183.0,206.51 184.0,207.29 185.0,208.08 186.0,208.86 187.0,209.64 188.0,210.42 189.0,211.20 190.0,211.98 191.0,212.75 192.0,213.52 193.0,214.30 194.0,215.06 195.0,215.83 196.0,216.60 197.0,217.36 198.0,218.13 199.0,218.89 200.0,219.65 201.0,220.40 202.0,221.16 203.0,221.91 204.0,222.66 205.0,223.41 206.0,224.16 207.0,224.91 208.0,225.65 209.0,226.39 210.0,227.13 211.0,227.87 212.0,228.60 213.0,229.33 214.0,230.06 215.0,230.79 216.0,231.51 217.0,232.23 218.0,232.95 219.0,233.67 220.0,234.38 221.0,235.10 222.0,235.80 223.0,236.51 224.0,237.21 225.0,237.91 226.0,238.61 227.0,239.30 228.0,239.99 229.0,240.68 230.0,241.36 231.0,242.04 232.0,242.72 233.0,243.39 234.0,244.06 235.0,244.73 236.0,245.39 237.0,246.04 238.0,246.70 239.0,247.35 240.0,247.99 241.0,248.64 242.0,249.27 243.0,249.90 244.0,250.53 245.0,251.16 246.0,251.78 247.0,252.39 248.0,253.00 249.0,253.60 250.0,254.20 251.0,254.80 252.0,255.39 253.0,255.97 254.0,256.55 255.0,257.12 256.0,257.69 257.0,258.25 258.0,258.81 259.0,259.36 260.0,259.90 261.0,260.44 262.0,260.97 263.0,261.50 264.0,262.02 265.0,262.53 266.0,263.04 267.0,263.54 268.0,264.04 269.0,264.53 270.0,265.01 271.0,265.48 272.0,265.95 273.0,266.42 274.0,266.87 275.0,267.32 276.0,267.76 277.0,268.20 278.0,268.62 279.0,269.05 280.0,269.46 281.0,269.87 282.0,270.27 283.0,270.66 284.0,271.05 285.0,271.43 286.0,271.80 287.0,272.17 288.0,272.53 289.0,272.88 290.0,273.23 291.0,273.57 292.0,273.87 293.0,274.16 294.0,274.47 295.0,274.83 296.0,275.21 297.0,275.55 298.0,275.79 299.0,276.00 300.0,276.22 301.0,276.47 302.0,276.76 303.0,277.04 304.0,277.48 305.0,277.83 306.0,278.12 307.0,278.18 308.0,278.29 309.0,278.38 310.0,278.50 311.0,278.70 312.0,278.99 313.0,279.42 314.0,279.73 315.0,279.91 316.0,279.93 317.0,280.01 318.0,280.28 319.0,280.64 320.0,280.92 321.0,281.08 322.0,281.08 323.0,281.15 324.0,281.21 325.0,281.44 326.0,281.64 327.0,281.70 328.0,281.68 329.0,281.63 330.0,281.72 331.0,281.83 332.0,282.10 333.0,282.45 334.0,282.82 335.0,282.79 336.0,282.73 337.0,282.52 338.0,282.60 339.0,282.53 340.0,282.77 341.0,283.02 342.0,283.21 343.0,283.26 344.0,283.22 345.0,283.38 346.0,283.51 347.0,283.67 348.0,283.84 349.0,283.97 350.0,284.04 351.0,283.91 352.0,283.80 353.0,283.66 354.0,283.49 355.0,283.24 356.0,283.21 357.0,283.43 358.0,283.82 359.0,284.27 360.0,284.78 361.0,285.23 362.0,285.14 363.0,284.92 364.0,284.63 365.0,284.81 366.0,284.89 367.0,285.22 368.0,285.21 369.0,285.29 370.0,284.89 371.0,284.71 372.0,284.52 373.0,284.84 374.0,284.96 375.0,285.03 376.0,284.85 377.0,284.98 378.0,285.02 379.0,285.01 380.0,284.78 381.0,284.84 382.0,285.04 383.0,285.45 384.0,285.67 385.0,285.66 386.0,285.40 387.0,285.30 388.0,285.39 389.0,285.57 390.0,285.34 391.0,285.11 392.0,284.86 393.0,285.06 394.0,285.39 395.0,285.75 396.0,285.95 397.0,285.76 398.0,285.58 399.0,285.34 400.0,285.47 401.0,285.49 402.0,285.44 403.0,285.38 404.0,285.33 405.0,285.33 406.0,285.10 407.0,284.95 408.0,285.00 409.0,285.31 410.0,285.64 411.0,285.86 412.0,286.01 413.0,285.99 414.0,285.97 415.0,285.77 416.0,285.98 417.0,286.35 418.0,286.65 419.0,286.57 420.0,286.08 421.0,285.79 422.0,285.45 423.0,285.21 424.0,285.03 425.0,285.12 426.0,285.39 427.0,285.62 428.0,285.58 429.0,285.50 430.0,285.05 431.0,284.88 432.0,284.89 433.0,285.46 434.0,285.72 435.0,285.60 436.0,285.34 437.0,285.26 438.0,285.56 439.0,285.74 440.0,285.76 441.0,285.39 442.0,285.07 443.0,284.86 444.0,285.05 445.0,285.25 446.0,285.53 447.0,285.66 448.0,285.66 449.0,285.80 450.0,285.77 451.0,285.82 452.0,285.68 453.0,285.92 454.0,286.23 455.0,286.57 456.0,286.34 457.0,286.00 458.0,285.53 459.0,285.50 460.0,285.50 461.0,285.79 462.0,286.02 463.0,286.25 464.0,286.21 465.0,286.18 466.0,286.04 467.0,286.03 468.0,285.93 469.0,286.04 470.0,286.14" stroke="#0000ff"/>
</g>
<rect x="228" y="10" width="236" height="92" fill="#fff"/><path d="M228 11H464M228 101H464" stroke="#858585" stroke-width="2" fill="none"/><path d="M227.5 10V102" stroke="#bbb" stroke-width="1"/><path d="M228.5 10V102M463.5 10V102" stroke="#222" stroke-width="1" fill="none"/><line x1="235" y1="20.0" x2="274" y2="20.0" stroke="#9a2e00" stroke-width="3"/><line x1="235" y1="34.4" x2="274" y2="34.4" stroke="#00ff00" stroke-width="3"/><line x1="235" y1="48.7" x2="274" y2="48.7" stroke="#ff00ff" stroke-width="3"/><line x1="235" y1="63.1" x2="274" y2="63.1" stroke="#000000" stroke-width="3"/><line x1="235" y1="77.5" x2="274" y2="77.5" stroke="#ff0000" stroke-width="3"/><line x1="235" y1="91.8" x2="274" y2="91.8" stroke="#0000ff" stroke-width="3"/>
<line x1="83.3" y1="311.3" x2="96.44" y2="298.92" stroke="#000" stroke-width="3"/><polygon points="105.9,290 98.54,305.52 96.44,298.92 89.97,296.43" fill="#000"/><line x1="126.6" y1="253" x2="116.41" y2="268.61" stroke="#000" stroke-width="3"/><polygon points="109.3,279.5 112.81,262.69 116.41,268.61 123.28,269.52" fill="#000"/><line x1="141" y1="316.7" x2="141.00" y2="298.30" stroke="#000" stroke-width="3"/><polygon points="141,285.3 147.25,301.30 141.00,298.30 134.75,301.30" fill="#000"/><line x1="404" y1="318.3" x2="404.00" y2="305.00" stroke="#000" stroke-width="3"/><polygon points="404,292 410.25,308.00 404.00,305.00 397.75,308.00" fill="#000"/><line x1="311" y1="233.4" x2="310.22" y2="257.61" stroke="#000" stroke-width="3"/><polygon points="309.8,270.6 304.07,254.41 310.22,257.61 316.56,254.81" fill="#000"/><line x1="352.8" y1="232.3" x2="352.87" y2="270.60" stroke="#000" stroke-width="3"/><polygon points="352.9,283.6 346.62,267.61 352.87,270.60 359.12,267.59" fill="#000"/>
<text transform="translate(42.3,9.30) scale(0.95,1)" text-anchor="end" style="font-family:'Liberation Sans',sans-serif;font-size:14px;font-weight:bold;">10</text><text transform="translate(42.3,57.05) scale(0.95,1)" text-anchor="end" style="font-family:'Liberation Sans',sans-serif;font-size:14px;font-weight:bold;">0</text><text transform="translate(42.3,104.81) scale(0.95,1)" text-anchor="end" style="font-family:'Liberation Sans',sans-serif;font-size:14px;font-weight:bold;">−10</text><text transform="translate(42.3,152.56) scale(0.95,1)" text-anchor="end" style="font-family:'Liberation Sans',sans-serif;font-size:14px;font-weight:bold;">−20</text><text transform="translate(42.3,200.32) scale(0.95,1)" text-anchor="end" style="font-family:'Liberation Sans',sans-serif;font-size:14px;font-weight:bold;">−30</text><text transform="translate(42.3,248.07) scale(0.95,1)" text-anchor="end" style="font-family:'Liberation Sans',sans-serif;font-size:14px;font-weight:bold;">−40</text><text transform="translate(42.3,295.83) scale(0.95,1)" text-anchor="end" style="font-family:'Liberation Sans',sans-serif;font-size:14px;font-weight:bold;">−50</text><text transform="translate(42.3,343.58) scale(0.95,1)" text-anchor="end" style="font-family:'Liberation Sans',sans-serif;font-size:14px;font-weight:bold;">−60</text><text transform="translate(46.0,354.4) scale(0.95,1)" text-anchor="middle" style="font-family:'Liberation Sans',sans-serif;font-size:14px;font-weight:bold;">0</text><text transform="translate(99.0,354.4) scale(0.95,1)" text-anchor="middle" style="font-family:'Liberation Sans',sans-serif;font-size:14px;font-weight:bold;">0.5</text><text transform="translate(152.0,354.4) scale(0.95,1)" text-anchor="middle" style="font-family:'Liberation Sans',sans-serif;font-size:14px;font-weight:bold;">1</text><text transform="translate(205.0,354.4) scale(0.95,1)" text-anchor="middle" style="font-family:'Liberation Sans',sans-serif;font-size:14px;font-weight:bold;">1.5</text><text transform="translate(258.0,354.4) scale(0.95,1)" text-anchor="middle" style="font-family:'Liberation Sans',sans-serif;font-size:14px;font-weight:bold;">2</text><text transform="translate(311.0,354.4) scale(0.95,1)" text-anchor="middle" style="font-family:'Liberation Sans',sans-serif;font-size:14px;font-weight:bold;">2.5</text><text transform="translate(364.0,354.4) scale(0.95,1)" text-anchor="middle" style="font-family:'Liberation Sans',sans-serif;font-size:14px;font-weight:bold;">3</text><text transform="translate(417.0,354.4) scale(0.95,1)" text-anchor="middle" style="font-family:'Liberation Sans',sans-serif;font-size:14px;font-weight:bold;">3.5</text><text transform="translate(470.0,354.4) scale(0.95,1)" text-anchor="middle" style="font-family:'Liberation Sans',sans-serif;font-size:14px;font-weight:bold;">4</text><text transform="translate(440,376) scale(0.95,1)" style="font-family:'Liberation Sans',sans-serif;font-size:14px;font-weight:bold">x 10</text><text transform="translate(465.2,367.6) scale(0.95,1)" style="font-family:'Liberation Sans',sans-serif;font-size:8.5px;font-weight:bold">4</text><text x="278" y="23.2" textLength="90" lengthAdjust="spacingAndGlyphs" style="font-family:'Liberation Serif',serif;font-size:13px;stroke:#000;stroke-width:0.3px;">(a) NSAF, N=8</text>
<text x="278" y="37.5" textLength="166" lengthAdjust="spacingAndGlyphs" style="font-family:'Liberation Serif',serif;font-size:13px;stroke:#000;stroke-width:0.3px;">(b) Proposed SR-NSAF, N=8</text>
<text x="278" y="51.9" textLength="176" lengthAdjust="spacingAndGlyphs" style="font-family:'Liberation Serif',serif;font-size:13px;stroke:#000;stroke-width:0.3px;">(c) Proposed MSR-NSAF, N=8</text>
<text x="278" y="66.2" textLength="90" lengthAdjust="spacingAndGlyphs" style="font-family:'Liberation Serif',serif;font-size:13px;stroke:#000;stroke-width:0.3px;">(d) NSAF, N=4</text>
<text x="278" y="80.3" textLength="166" lengthAdjust="spacingAndGlyphs" style="font-family:'Liberation Serif',serif;font-size:13px;stroke:#000;stroke-width:0.3px;">(e) Proposed SR-NSAF, N=4</text>
<text x="278" y="94.3" textLength="176" lengthAdjust="spacingAndGlyphs" style="font-family:'Liberation Serif',serif;font-size:13px;stroke:#000;stroke-width:0.3px;">(f) Proposed MSR-NSAF, N=4</text>
<text x="203" y="369.6" textLength="113" lengthAdjust="spacingAndGlyphs" style="font-family:'Liberation Serif',serif;font-size:14.5px;stroke:#000;stroke-width:0.3px;">Iteration Number</text>
<text x="0" y="0" transform="translate(10.8,209.6) rotate(-90)" textLength="76.6" lengthAdjust="spacingAndGlyphs" style="font-family:'Liberation Serif',serif;font-size:14px;stroke:#000;stroke-width:0.3px;">NMSD (dB)</text>
<text x="201.5" y="150.8" textLength="140" lengthAdjust="spacingAndGlyphs" style="font-family:'Liberation Serif',serif;font-size:10px;stroke:#000;stroke-width:0.3px;">Input: Colored Gaussian AR(2)</text>
<text x="201.5" y="163.5" textLength="195" lengthAdjust="spacingAndGlyphs" style="font-family:'Liberation Serif',serif;font-size:10px;stroke:#000;stroke-width:0.3px;">Unknown System: Car echo path (<tspan font-style="italic">M</tspan> = 256)</text>
<text x="67.60000000000001" y="320.3" textLength="15.4" lengthAdjust="spacingAndGlyphs" style="font-family:'Liberation Serif',serif;font-size:13.5px;stroke:#000;stroke-width:0.3px;">(a)</text>
<text x="127.60000000000001" y="249.0" textLength="15.7" lengthAdjust="spacingAndGlyphs" style="font-family:'Liberation Serif',serif;font-size:13.5px;stroke:#000;stroke-width:0.3px;">(b)</text>
<text x="133.39999999999998" y="325.4" textLength="15.3" lengthAdjust="spacingAndGlyphs" style="font-family:'Liberation Serif',serif;font-size:13.5px;stroke:#000;stroke-width:0.3px;">(c)</text>
<text x="395.8" y="328.1" textLength="15.5" lengthAdjust="spacingAndGlyphs" style="font-family:'Liberation Serif',serif;font-size:13.5px;stroke:#000;stroke-width:0.3px;">(d)</text>
<text x="303.59999999999997" y="229.9" textLength="14.8" lengthAdjust="spacingAndGlyphs" style="font-family:'Liberation Serif',serif;font-size:13.5px;stroke:#000;stroke-width:0.3px;">(e)</text>
<text x="346.09999999999997" y="227.9" textLength="13.7" lengthAdjust="spacingAndGlyphs" style="font-family:'Liberation Serif',serif;font-size:13.5px;stroke:#000;stroke-width:0.3px;">(f)</text>
</svg>
</body></html>
